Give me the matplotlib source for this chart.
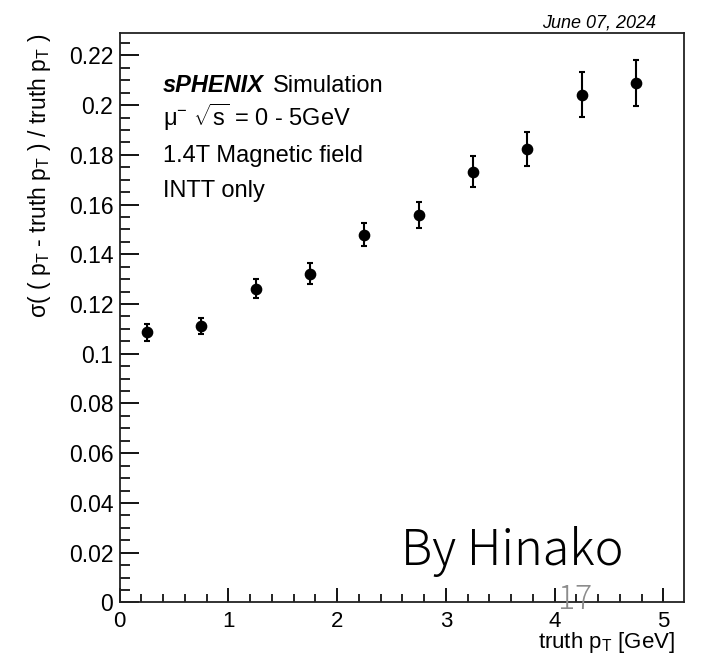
import matplotlib
matplotlib.use('Agg')
import matplotlib.pyplot as plt
from matplotlib.ticker import MultipleLocator, FixedLocator

# ---- data ----
truth_pt = [0.25, 0.75, 1.25, 1.75, 2.25, 2.75, 3.25, 3.75, 4.25, 4.75]
resolution = [0.1087, 0.1112, 0.1262, 0.1322, 0.1479, 0.1558, 0.1732, 0.1825, 0.2042, 0.2089]
resolution_err = [0.0034, 0.0031, 0.0037, 0.0041, 0.0046, 0.0054, 0.0062, 0.0068, 0.0090, 0.0094]
x_ticks = [0, 1, 2, 3, 4, 5]
x_tick_labels = ['0', '1', '2', '3', '4', '5']
y_ticks = [0, 0.02, 0.04, 0.06, 0.08, 0.10, 0.12, 0.14, 0.16, 0.18, 0.20, 0.22]
y_tick_labels = ['0', '0.02', '0.04', '0.06', '0.08', '0.1', '0.12', '0.14', '0.16', '0.18', '0.2', '0.22']

plt.rcParams['font.family'] = ['Liberation Sans', 'DejaVu Sans']
plt.rcParams['mathtext.fontset'] = 'custom'
plt.rcParams['mathtext.rm'] = 'Liberation Sans'
plt.rcParams['mathtext.it'] = 'Liberation Sans:italic'
plt.rcParams['mathtext.default'] = 'regular'

W, H = 702, 655
fig = plt.figure(figsize=(W / 100, H / 100), dpi=100)
L, R, T, B = 119.6, 684.0, 33.0, 602.4
ax = fig.add_axes([L / W, 1 - B / H, (R - L) / W, (B - T) / H])

ax.errorbar(truth_pt, resolution, yerr=resolution_err, fmt='o', color='black',
            markersize=7.4, elinewidth=1.5, capsize=2.5, capthick=1.5)

ax.set_xlim(0, 5.19)
ax.set_ylim(0, 0.229)
ax.xaxis.set_major_locator(FixedLocator(x_ticks))
ax.set_xticklabels(x_tick_labels)
ax.yaxis.set_major_locator(FixedLocator(y_ticks))
ax.set_yticklabels(y_tick_labels)
ax.xaxis.set_minor_locator(MultipleLocator(0.2))
ax.yaxis.set_minor_locator(MultipleLocator(0.005))

for s in ax.spines.values():
    s.set_linewidth(1.3)
    s.set_color('#222222')

ax.tick_params(axis='x', which='major', direction='in', length=10, width=1.3, pad=6, labelsize=16)
ax.tick_params(axis='x', which='minor', direction='in', length=5.5, width=1.2)
ax.tick_params(axis='y', which='major', direction='in', length=14, width=1.3, pad=4.5, labelsize=16.5)
ax.tick_params(axis='y', which='minor', direction='in', length=7, width=1.2)
ax.tick_params(top=False, right=False, which='both')

def ftxt(x, y, s, **kw):
    fig.text(x / W, 1 - y / H, s, **kw)

# axis titles
ftxt(675, 648, 'truth p$_{T}$ [GeV]', ha='right', va='baseline', fontsize=16)
ftxt(40, 34, 'σ( ( p$_{T}$ - truth p$_{T}$ ) / truth p$_{T}$ )', ha='center', va='top',
     rotation=90, fontsize=16.5)

# date
ftxt(656, 27, 'June 07, 2024', ha='right', va='baseline', fontsize=13, style='italic')

# legend texts
lx = 162.7
fs = 17
ftxt(lx, 91.7, 'sPHENIX', ha='left', va='baseline', fontsize=fs, weight='bold', style='italic')
ftxt(lx + 110, 91.7, 'Simulation', ha='left', va='baseline', fontsize=fs)
ftxt(lx, 125.7, 'μ$^{-}$ $\\sqrt{s}$ = 0 - 5GeV', ha='left', va='baseline', fontsize=fs)
ftxt(lx, 161.7, '1.4T Magnetic field', ha='left', va='baseline', fontsize=fs)
ftxt(lx, 196.7, 'INTT only', ha='left', va='baseline', fontsize=fs)

# overlay annotations
ftxt(400.7, 565, 'By Hinako', ha='left', va='baseline', fontsize=35, weight='light',
     family=['Noto Sans CJK JP', 'DejaVu Sans'], color='black')
ftxt(575, 600, '17', ha='center', va='center', fontsize=23, weight='light',
     family=['Noto Sans CJK JP', 'DejaVu Sans'], color='#8c8c8c')

fig.savefig('out.png', dpi=100)
